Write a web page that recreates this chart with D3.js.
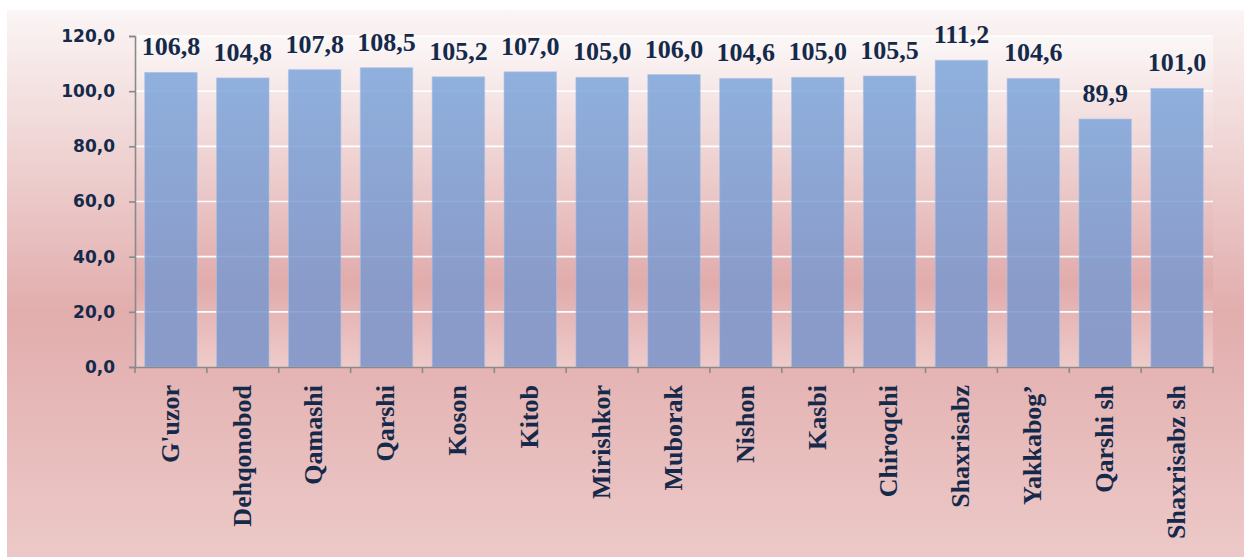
<!DOCTYPE html>
<html>
<head>
<meta charset="utf-8">
<title>Qashqadaryo</title>
<style>
  body { margin: 0; background: #fff; }
  svg { display: block; }
  .ylab text { font-family: "DejaVu Sans", Verdana, sans-serif; font-weight: bold; font-size: 17px; fill: #152a4a; }
  .xlab text { font-family: "Liberation Serif", "Times New Roman", serif; font-weight: bold; font-size: 26px; fill: #152a4a; }
  .val { font-family: "Liberation Serif", "Times New Roman", serif; font-weight: bold; font-size: 26px; fill: #152a4a; }
</style>
</head>
<body>
<svg id="chart"></svg>
<script src="https://d3js.org/d3.v7.min.js"></script>
<script>
// districts and their values
var districts = ["G'uzor", "Dehqonobod", "Qamashi", "Qarshi", "Koson", "Kitob", "Mirishkor",
  "Muborak", "Nishon", "Kasbi", "Chiroqchi", "Shaxrisabz", "Yakkabog\u2019", "Qarshi sh", "Shaxrisabz sh"];
var values = [106.8, 104.8, 107.8, 108.5, 105.2, 107.0, 105.0, 106.0, 104.6, 105.0, 105.5, 111.2, 104.6, 89.9, 101.0];
var yTicks = [0, 20, 40, 60, 80, 100, 120];

var width = 1244, height = 557;
var plot = {left: 135, right: 1213, top: 36, bottom: 367};

var svg = d3.select("#chart").attr("width", width).attr("height", height);
var defs = svg.append("defs");

function grad(id, stops) {
  var g = defs.append("linearGradient").attr("id", id)
    .attr("x1", 0).attr("y1", 0).attr("x2", 0).attr("y2", 1);
  stops.forEach(function(s) {
    g.append("stop").attr("offset", s[0]).attr("stop-color", s[1]);
  });
}
grad("bgGrad", [[0, "#fbf5f5"], [0.55, "#e2adad"], [1, "#ecc9c8"]]);
grad("plotGrad", [[0, "#fcf8f8"], [0.75, "#e1abab"], [1, "#eecbca"]]);
grad("barGrad", [[0, "#7da5da"], [1, "#7993ca"]]);

// outer background
svg.append("rect").attr("x", 7).attr("y", 10)
  .attr("width", width - 7).attr("height", height - 10)
  .attr("fill", "url(#bgGrad)");

svg.append("rect").attr("x", plot.left).attr("y", plot.top)
  .attr("width", plot.right - plot.left).attr("height", plot.bottom - plot.top)
  .attr("fill", "url(#plotGrad)");

var x = d3.scaleBand().domain(districts).range([plot.left, plot.right])
  .paddingInner(0.27).paddingOuter(0.135);
var y = d3.scaleLinear().domain([0, 120]).range([plot.bottom, plot.top]);

// gridlines
svg.append("g").selectAll("line").data(yTicks.slice(1)).enter().append("line")
  .attr("x1", plot.left).attr("x2", plot.right)
  .attr("y1", function(d) { return y(d); }).attr("y2", function(d) { return y(d); })
  .attr("stroke", "#fff").attr("stroke-width", 1.6);

// bars
svg.append("g").selectAll("rect").data(values).enter().append("rect")
  .attr("x", function(d, i) { return x(districts[i]); })
  .attr("y", function(d) { return y(d); })
  .attr("width", x.bandwidth())
  .attr("height", function(d) { return y(0) - y(d); })
  .attr("fill", "url(#barGrad)")
  .attr("fill-opacity", 0.85)
  .attr("stroke", "#a8c2ea").attr("stroke-opacity", 0.6).attr("stroke-width", 1);

// value labels
svg.append("g").selectAll("text").data(values).enter().append("text")
  .attr("class", "val")
  .attr("x", function(d, i) { return x(districts[i]) + x.bandwidth() / 2; })
  .attr("y", function(d) { return y(d) - 17; })
  .attr("text-anchor", "middle")
  .text(function(d) { return d.toFixed(1).replace(".", ","); });

// y axis
var yAxis = svg.append("g").attr("class", "ylab")
  .attr("transform", "translate(" + plot.left + ",0)")
  .call(d3.axisLeft(y).tickValues(yTicks).tickSize(6).tickPadding(14)
    .tickFormat(function(d) { return d.toFixed(1).replace(".", ","); }));
yAxis.select(".domain").attr("stroke", "#8a8a8a").attr("stroke-width", 1.6);
yAxis.selectAll(".tick line").attr("stroke", "#8a8a8a").attr("stroke-width", 1.6);

// x axis
var xAxis = svg.append("g").attr("class", "xlab")
  .attr("transform", "translate(0," + plot.bottom + ")")
  .call(d3.axisBottom(x).tickSize(0).tickPadding(0));
xAxis.select(".domain").attr("stroke", "#8a8a8a").attr("stroke-width", 1.6);
xAxis.selectAll(".tick text")
  .attr("transform", "rotate(-90)")
  .attr("text-anchor", "end")
  .attr("x", -18).attr("y", 0).attr("dy", "0.3em");

// boundary ticks between categories
var bounds = districts.map(function(d) { return x(d) - x.step() * x.paddingInner() / 2; });
bounds.push(plot.right);
xAxis.append("g").selectAll("line").data(bounds).enter().append("line")
  .attr("x1", function(d) { return d; }).attr("x2", function(d) { return d; })
  .attr("y1", 0).attr("y2", 6)
  .attr("stroke", "#8a8a8a").attr("stroke-width", 1.6);
</script>
</body>
</html>
